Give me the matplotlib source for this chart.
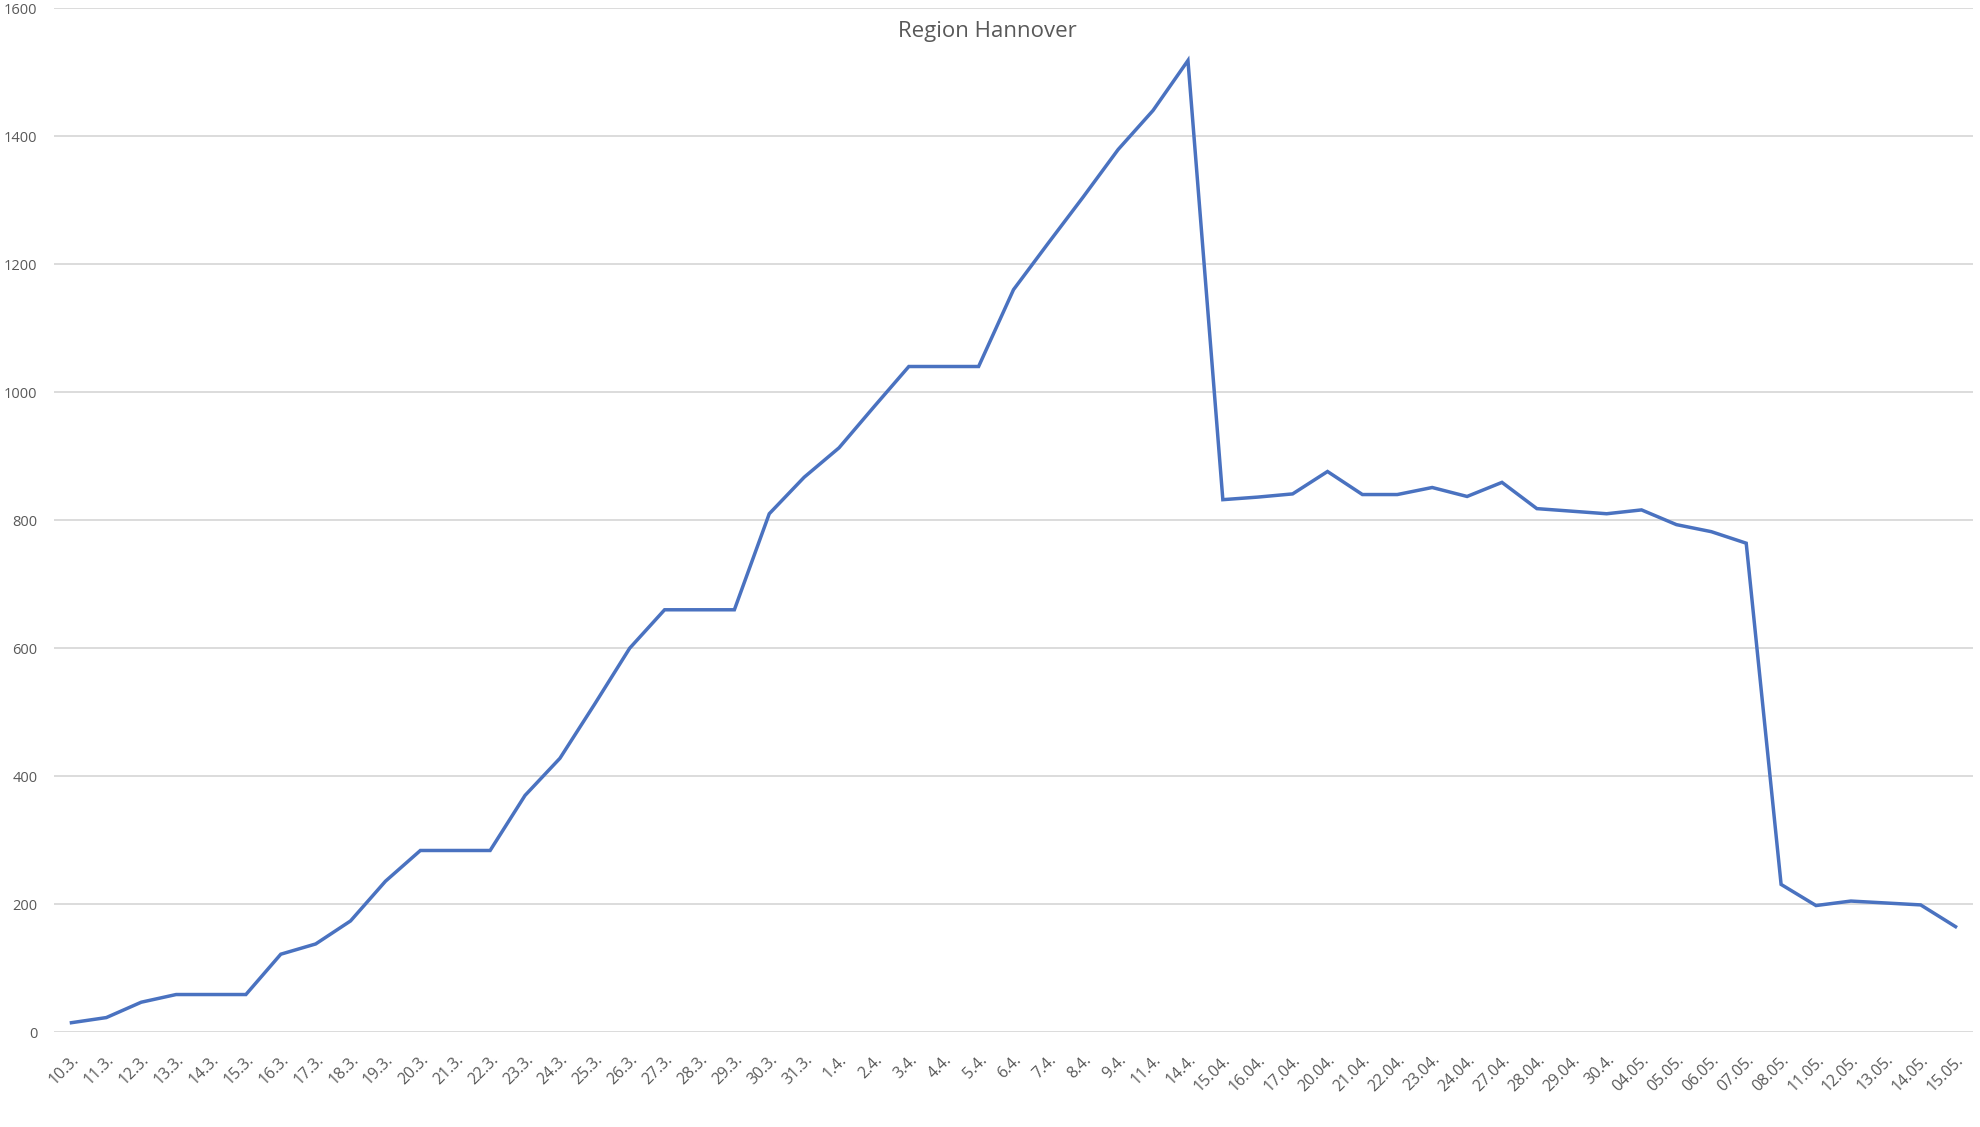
import matplotlib
matplotlib.use("Agg")
import matplotlib.pyplot as plt
import numpy as np

dates = ["10.3.", "11.3.", "12.3.", "13.3.", "14.3.", "15.3.", "16.3.", "17.3.", "18.3.", "19.3.",
         "20.3.", "21.3.", "22.3.", "23.3.", "24.3.", "25.3.", "26.3.", "27.3.", "28.3.", "29.3.",
         "30.3.", "31.3.", "1.4.", "2.4.", "3.4.", "4.4.", "5.4.", "6.4.", "7.4.", "8.4.", "9.4.",
         "11.4.", "14.4.", "15.04.", "16.04.", "17.04.", "20.04.", "21.04.", "22.04.", "23.04.",
         "24.04.", "27.04.", "28.04.", "29.04.", "30.4.", "04.05.", "05.05.", "06.05.", "07.05.",
         "08.05.", "11.05.", "12.05.", "13.05.", "14.05.", "15.05."]

values = [15, 23, 47, 59, 59, 59, 122, 138, 174, 236,
          284, 284, 284, 370, 428, 513, 600, 660, 660, 660,
          810, 867, 913, 977, 1040, 1040, 1040, 1160, 1233, 1305, 1379,
          1440, 1518, 832, 836, 841, 876, 840, 840, 851,
          837, 859, 818, 814, 810, 816, 793, 782, 764,
          231, 198, 205, 202, 199, 165]

yticks = [0, 200, 400, 600, 800, 1000, 1200, 1400, 1600]
title = "Region Hannover"

plt.rcParams['font.family'] = ['Open Sans', 'DejaVu Sans']
text_color = "#595959"

fig = plt.figure(figsize=(19.8, 11.27), dpi=100)
ax = fig.add_axes([54 / 1980, 1 - 1032.3 / 1127, (1973 - 54) / 1980, (1032.3 - 8) / 1127])

x = np.arange(len(dates))
ax.plot(x, values, color="#4A72C0", linewidth=2.5, solid_joinstyle="miter", zorder=3)

ax.set_xlim(-0.5, len(dates) - 0.5)
ax.set_ylim(0, 1600)
ax.set_yticks(yticks)
ax.set_yticklabels([str(v) for v in yticks])
ax.set_xticks(x)
ax.set_xticklabels(dates, rotation=45, ha="right", va="top", rotation_mode="anchor")

ax.grid(axis="y", color="#D9D9D9", linewidth=1.3, zorder=0)
ax.grid(axis="x", visible=False)
for s in ax.spines.values():
    s.set_visible(False)

ax.tick_params(axis="y", length=0, pad=12, labelsize=10.5, labelcolor=text_color)
ax.tick_params(axis="x", length=0, pad=14, labelsize=11.3, labelcolor=text_color)

fig.text(987 / 1980, 1 - 31 / 1127, title, ha="center", va="center",
         fontsize=16, color=text_color)

fig.savefig("out.png", dpi=100, facecolor="white")
